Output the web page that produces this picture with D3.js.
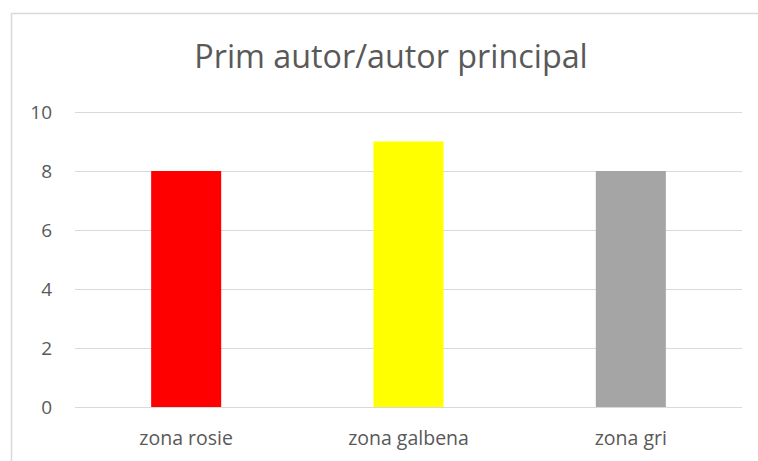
<!DOCTYPE html>
<html>
<head>
<meta charset="utf-8">
<script src="https://cdn.jsdelivr.net/npm/d3@7"></script>
<style>
  body { margin: 0; background: #fff; }
  svg { display: block; font-family: "Open Sans", "Liberation Sans", sans-serif; }
</style>
</head>
<body>
<div id="chart"></div>
<script>
// data
const categories = ["zona rosie", "zona galbena", "zona gri"];
const values = [8, 9, 8];
const barColors = ["#FF0000", "#FFFF00", "#A5A5A5"];
const yTicks = [0, 2, 4, 6, 8, 10];
const title = "Prim autor/autor principal";

const width = 758, height = 461;
const margin = { top: 112, right: 16, bottom: 54, left: 75 };

const svg = d3.select("#chart").append("svg")
    .attr("width", width)
    .attr("height", height);

// chart frame (only top and left edges are inside the picture)
svg.append("rect")
    .attr("x", 11.5).attr("y", 13.5)
    .attr("width", 800).attr("height", 500)
    .attr("fill", "none")
    .attr("stroke", "#D9D9D9")
    .attr("stroke-width", 1.5);

const x = d3.scaleBand()
    .domain(categories)
    .range([margin.left, width - margin.right])
    .paddingInner(0.685)
    .paddingOuter(0.3425);

const y = d3.scaleLinear()
    .domain([0, 10])
    .range([height - margin.bottom, margin.top]);

// gridlines
svg.append("g")
    .selectAll("line")
    .data(yTicks)
    .join("line")
    .attr("x1", margin.left)
    .attr("x2", width - margin.right)
    .attr("y1", d => Math.round(y(d)) + 0.5)
    .attr("y2", d => Math.round(y(d)) + 0.5)
    .attr("stroke", "#D9D9D9")
    .attr("stroke-width", 1);

// bars
svg.append("g")
    .selectAll("rect")
    .data(values)
    .join("rect")
    .attr("x", (d, i) => x(categories[i]))
    .attr("y", d => y(d))
    .attr("width", x.bandwidth())
    .attr("height", d => y(0) - y(d))
    .attr("fill", (d, i) => barColors[i]);

// y axis labels
const yAxis = svg.append("g")
    .attr("transform", "translate(" + (margin.left - 23) + ",0)")
    .call(d3.axisLeft(y).tickValues(yTicks).tickSize(0).tickPadding(0));
yAxis.select(".domain").remove();
yAxis.selectAll("text")
    .attr("font-size", "19px")
    .attr("font-family", "\"Open Sans\", sans-serif")
    .attr("fill", "#595959");

// x axis labels
const xAxis = svg.append("g")
    .attr("transform", "translate(0," + y(0) + ")")
    .call(d3.axisBottom(x).tickSize(0).tickPadding(24));
xAxis.select(".domain").remove();
xAxis.selectAll("text")
    .attr("font-size", "19.5px")
    .attr("font-family", "\"Open Sans\", sans-serif")
    .attr("fill", "#595959");

// title, scaled to the width it has in the picture
const t = svg.append("text")
    .attr("x", 391)
    .attr("y", 68)
    .attr("text-anchor", "middle")
    .attr("fill", "#595959")
    .attr("font-size", "30px")
    .text(title);
const w = t.node().getComputedTextLength();
t.attr("font-size", (30 * 393 / w).toFixed(1) + "px");
</script>
</body>
</html>
